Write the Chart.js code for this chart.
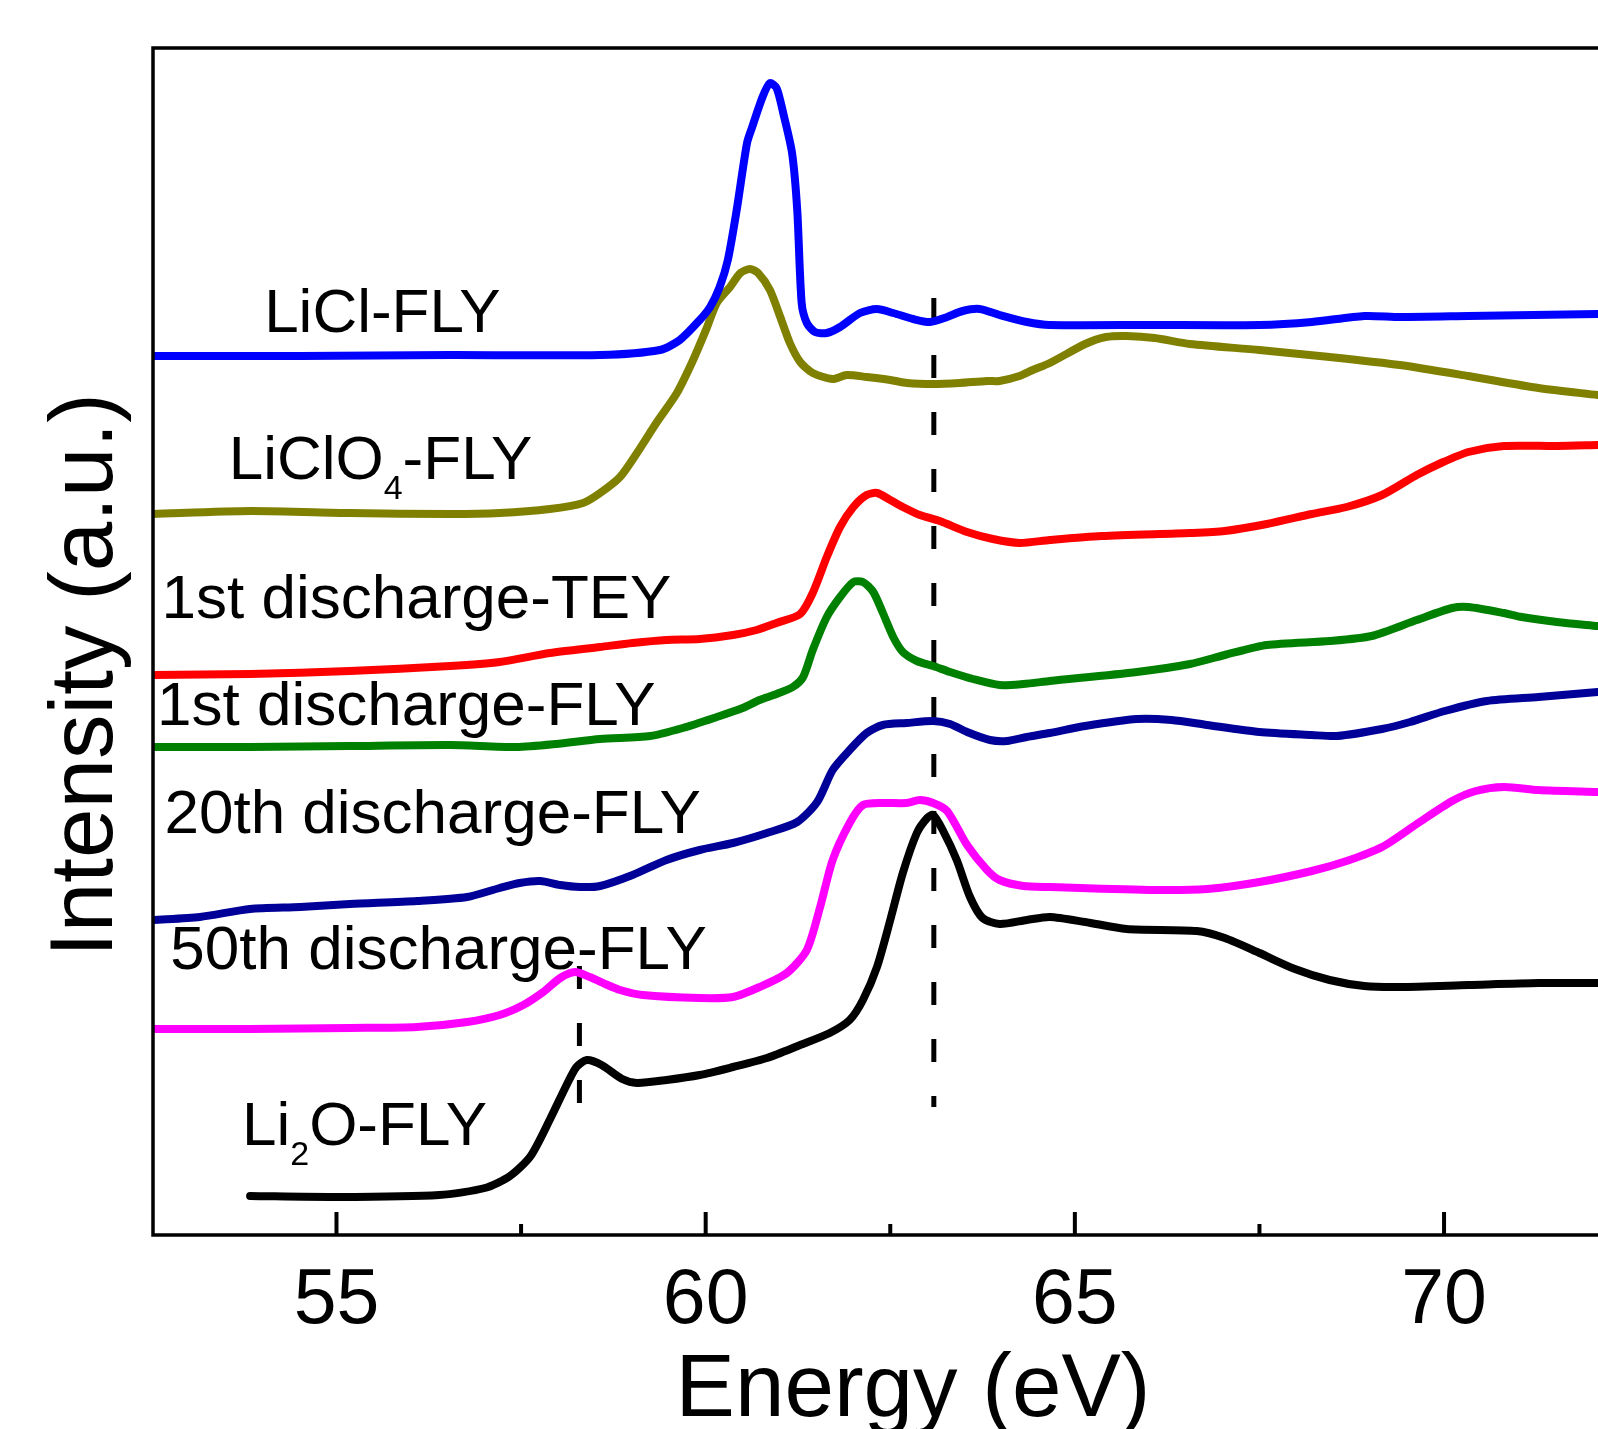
<!DOCTYPE html>
<html>
<head>
<meta charset="utf-8">
<title>Li K-edge XAS</title>
<script src="https://cdn.jsdelivr.net/npm/chart.js@4.4.1/dist/chart.umd.min.js"></script>
<style>
  html, body { margin: 0; padding: 0; background: #fff; }
  canvas { display: block; }
</style>
</head>
<body>
<canvas id="xasChart" width="1598" height="1429"></canvas>
<script>
// ===============================
// DATA (energy in eV, intensity in a.u., offset stacked as in the figure)
// ===============================
const liclFLY = [
  [52.52, 8.79], [54.51, 8.79], [56.54, 8.80], [58.57, 8.80], [59.38, 8.85], [59.65, 8.95],
  [59.92, 9.15], [60.06, 9.28], [60.19, 9.48], [60.30, 9.75], [60.42, 10.25], [60.56, 10.92],
  [60.63, 11.08], [60.77, 11.38], [60.87, 11.52], [60.96, 11.47], [61.05, 11.22], [61.17, 10.82],
  [61.24, 10.25], [61.30, 9.32], [61.37, 9.12], [61.48, 9.03], [61.64, 9.02], [61.82, 9.08],
  [62.09, 9.22], [62.32, 9.26], [62.54, 9.22], [62.81, 9.16], [63.04, 9.13], [63.27, 9.18],
  [63.48, 9.24], [63.71, 9.26], [63.98, 9.20], [64.35, 9.13], [64.66, 9.10], [66.01, 9.10],
  [67.50, 9.10], [68.21, 9.13], [68.92, 9.19], [69.40, 9.18], [70.33, 9.19], [72.08, 9.21]
];

const liclo4FLY = [
  [52.52, 7.21], [53.83, 7.24], [55.18, 7.22], [56.54, 7.21], [57.21, 7.22], [57.89, 7.26],
  [58.34, 7.32], [58.57, 7.42], [58.84, 7.58], [59.07, 7.82], [59.34, 8.13], [59.61, 8.42],
  [59.83, 8.75], [60.02, 9.08], [60.15, 9.32], [60.33, 9.48], [60.47, 9.62], [60.60, 9.66],
  [60.71, 9.62], [60.87, 9.45], [61.01, 9.18], [61.14, 8.92], [61.28, 8.73], [61.45, 8.62],
  [61.72, 8.56], [61.91, 8.60], [62.18, 8.58], [62.50, 8.55], [62.73, 8.52], [63.08, 8.51],
  [63.44, 8.52], [63.81, 8.54], [63.98, 8.54], [64.25, 8.59], [64.43, 8.65], [64.66, 8.72],
  [65.14, 8.91], [65.42, 8.98], [65.70, 8.99], [66.08, 8.97], [66.56, 8.91], [67.50, 8.85],
  [68.45, 8.78], [69.40, 8.70], [70.33, 8.59], [71.28, 8.47], [72.08, 8.40]
];

const firstTEY = [
  [52.52, 5.60], [53.83, 5.61], [55.18, 5.64], [56.54, 5.69], [57.21, 5.73], [57.89, 5.82],
  [58.57, 5.88], [59.01, 5.92], [59.47, 5.95], [59.92, 5.96], [60.37, 6.00], [60.69, 6.05],
  [60.96, 6.12], [61.28, 6.21], [61.45, 6.42], [61.64, 6.78], [61.82, 7.08], [62.00, 7.28],
  [62.18, 7.40], [62.32, 7.42], [62.50, 7.35], [62.67, 7.28], [62.90, 7.20], [63.17, 7.14],
  [63.54, 7.03], [63.89, 6.96], [64.25, 6.92], [64.66, 6.95], [65.36, 6.99], [66.56, 7.02],
  [67.03, 7.04], [67.60, 7.11], [68.21, 7.21], [68.68, 7.28], [69.16, 7.40], [69.63, 7.60],
  [69.96, 7.72], [70.33, 7.83], [70.81, 7.89], [71.53, 7.89], [72.08, 7.90]
];

const firstFLY = [
  [52.52, 4.88], [53.83, 4.88], [55.18, 4.89], [56.54, 4.90], [57.44, 4.88], [57.97, 4.91],
  [58.57, 4.96], [59.25, 4.99], [59.69, 5.07], [60.15, 5.18], [60.50, 5.27], [60.73, 5.35],
  [60.96, 5.41], [61.18, 5.48], [61.32, 5.58], [61.45, 5.85], [61.64, 6.18], [61.82, 6.38],
  [62.00, 6.53], [62.13, 6.53], [62.27, 6.43], [62.40, 6.22], [62.54, 5.98], [62.67, 5.83],
  [62.86, 5.74], [63.08, 5.69], [63.31, 5.63], [63.62, 5.56], [63.98, 5.50], [64.30, 5.51],
  [64.66, 5.54], [65.84, 5.63], [66.56, 5.71], [67.03, 5.80], [67.60, 5.90], [68.45, 5.94],
  [69.02, 5.99], [69.63, 6.15], [70.11, 6.27], [70.33, 6.28], [70.81, 6.22], [71.05, 6.18],
  [71.53, 6.13], [72.08, 6.09]
];

const twentiethFLY = [
  [52.52, 3.15], [53.15, 3.18], [53.83, 3.26], [54.51, 3.28], [55.18, 3.31], [56.09, 3.34],
  [56.77, 3.38], [57.21, 3.47], [57.48, 3.52], [57.76, 3.54], [58.03, 3.50], [58.30, 3.48],
  [58.57, 3.49], [59.01, 3.60], [59.47, 3.75], [59.92, 3.85], [60.37, 3.92], [60.83, 4.02],
  [61.24, 4.13], [61.51, 4.33], [61.72, 4.65], [61.95, 4.85], [62.18, 5.02], [62.40, 5.10],
  [62.72, 5.12], [63.08, 5.14], [63.31, 5.11], [63.54, 5.03], [63.85, 4.95], [64.08, 4.94],
  [64.35, 4.98], [64.66, 5.02], [65.14, 5.09], [65.84, 5.16], [66.31, 5.15], [66.79, 5.10],
  [67.50, 5.03], [68.21, 5.00], [68.55, 4.99], [69.16, 5.06], [69.54, 5.13], [70.01, 5.24],
  [70.58, 5.34], [71.28, 5.38], [72.08, 5.43]
];

const fiftiethFLY = [
  [52.52, 2.06], [53.83, 2.06], [55.18, 2.07], [56.09, 2.08], [56.77, 2.13], [57.21, 2.20],
  [57.53, 2.30], [57.80, 2.43], [58.03, 2.57], [58.23, 2.63], [58.43, 2.58], [58.64, 2.51],
  [58.84, 2.45], [59.15, 2.40], [59.92, 2.37], [60.37, 2.38], [60.73, 2.48], [61.10, 2.62],
  [61.37, 2.85], [61.55, 3.28], [61.72, 3.75], [61.95, 4.12], [62.13, 4.30], [62.40, 4.32],
  [62.72, 4.32], [62.90, 4.35], [63.08, 4.32], [63.27, 4.24], [63.54, 3.90], [63.81, 3.65],
  [63.98, 3.55], [64.30, 3.49], [64.66, 3.48], [66.08, 3.45], [66.79, 3.46], [67.50, 3.53],
  [68.21, 3.64], [68.68, 3.74], [69.16, 3.88], [69.63, 4.11], [70.11, 4.34], [70.43, 4.44],
  [70.81, 4.48], [71.28, 4.45], [72.08, 4.43]
];

const li2oFLY = [
  [53.83, 0.39], [55.01, 0.38], [56.39, 0.40], [57.01, 0.47], [57.35, 0.59], [57.63, 0.79],
  [57.90, 1.17], [58.11, 1.49], [58.25, 1.68], [58.39, 1.75], [58.59, 1.70], [58.87, 1.56],
  [59.07, 1.52], [59.47, 1.55], [59.92, 1.60], [60.37, 1.68], [60.83, 1.77], [61.28, 1.90],
  [61.68, 2.02], [61.95, 2.15], [62.13, 2.35], [62.32, 2.68], [62.50, 3.15], [62.67, 3.62],
  [62.86, 4.02], [63.00, 4.17], [63.08, 4.20], [63.21, 4.05], [63.40, 3.75], [63.58, 3.38],
  [63.75, 3.17], [63.98, 3.11], [64.35, 3.15], [64.66, 3.18], [65.14, 3.13], [65.70, 3.06],
  [66.65, 3.04], [67.03, 2.97], [67.50, 2.82], [67.98, 2.66], [68.45, 2.55], [68.92, 2.49],
  [69.40, 2.48], [70.33, 2.50], [71.28, 2.52], [72.08, 2.52]
];

// guide lines: [energy, top, bottom]
const guideLines = [[63.09, 9.37, 1.28], [58.29, 2.69, 0.99]];

const majorTicks = [55, 60, 65, 70];
const minorTicks = [57.5, 62.5, 67.5];

// curve labels: anchor energy, baseline intensity, text parts
const curveLabels = [
  { x: 54.02, y: 9.03, parts: [["LiCl-FLY"]] },
  { x: 53.54, y: 7.56, parts: [["LiClO"], ["4", true], ["-FLY"]] },
  { x: 52.63, y: 6.17, parts: [["1st discharge-TEY"]] },
  { x: 52.57, y: 5.10, parts: [["1st discharge-FLY"]] },
  { x: 52.67, y: 4.02, parts: [["20th discharge-FLY"]] },
  { x: 52.75, y: 2.66, parts: [["50th discharge-FLY"]] },
  { x: 53.72, y: 0.90, parts: [["Li"], ["2", true], ["O-FLY"]] }
];

const FONT = "'Liberation Sans', Arial, sans-serif";

document.addEventListener("DOMContentLoaded", () => {
  const toPoints = arr => arr.map(([x, y]) => ({ x, y }));

  const curve = (label, data, color) => ({
    label,
    data: toPoints(data),
    borderColor: color,
    borderWidth: 8,
    pointRadius: 0,
    tension: 0.25,
    borderCapStyle: "round",
    borderJoinStyle: "round",
    fill: false
  });

  const guides = guideLines.map(([e, top, bottom]) => ({
    label: "guide",
    data: [{ x: e, y: top }, { x: e, y: bottom }],
    borderColor: "#000",
    borderWidth: 5,
    borderDash: [23, 34],
    pointRadius: 0,
    fill: false
  }));

  // ---- axes frame, inward ticks, tick labels, titles, curve labels
  const framePlugin = {
    id: "frame",
    afterDraw(chart) {
      const { ctx, chartArea: a, scales: { x, y } } = chart;
      ctx.save();
      ctx.strokeStyle = "#000";
      ctx.lineWidth = 3.5;
      ctx.beginPath();
      ctx.moveTo(a.right, a.top);
      ctx.lineTo(a.left, a.top);
      ctx.lineTo(a.left, a.bottom);
      ctx.lineTo(a.right, a.bottom);
      ctx.stroke();

      ctx.lineWidth = 4;
      ctx.beginPath();
      majorTicks.forEach(v => {
        const px = x.getPixelForValue(v);
        ctx.moveTo(px, a.bottom);
        ctx.lineTo(px, a.bottom - 23);
      });
      minorTicks.forEach(v => {
        const px = x.getPixelForValue(v);
        ctx.moveTo(px, a.bottom);
        ctx.lineTo(px, a.bottom - 11);
      });
      ctx.stroke();

      ctx.fillStyle = "#000";
      ctx.textBaseline = "alphabetic";
      ctx.textAlign = "center";
      ctx.font = `77px ${FONT}`;
      majorTicks.forEach(v => ctx.fillText(String(v), x.getPixelForValue(v), a.bottom + 88));

      ctx.font = `89px ${FONT}`;
      ctx.fillText("Energy (eV)", 913, a.bottom + 181);

      ctx.save();
      ctx.translate(112, 675);
      ctx.rotate(-Math.PI / 2);
      ctx.fillText("Intensity (a.u.)", 0, 0);
      ctx.restore();

      ctx.textAlign = "left";
      curveLabels.forEach(lbl => {
        let px = x.getPixelForValue(lbl.x);
        const py = y.getPixelForValue(lbl.y);
        lbl.parts.forEach(([t, sub]) => {
          ctx.font = sub ? `34px ${FONT}` : `62px ${FONT}`;
          ctx.fillText(t, px, sub ? py + 20 : py);
          px += ctx.measureText(t).width;
        });
      });
      ctx.restore();
    }
  };

  new Chart(document.getElementById("xasChart"), {
    type: "line",
    data: {
      datasets: [
        curve("LiCl-FLY", liclFLY, "#0000ff"),
        curve("LiClO4-FLY", liclo4FLY, "#808000"),
        curve("1st discharge-TEY", firstTEY, "#ff0000"),
        curve("1st discharge-FLY", firstFLY, "#008000"),
        curve("20th discharge-FLY", twentiethFLY, "#000099"),
        curve("50th discharge-FLY", fiftiethFLY, "#ff00ff"),
        curve("Li2O-FLY", li2oFLY, "#000000"),
        ...guides
      ]
    },
    options: {
      responsive: false,
      animation: false,
      devicePixelRatio: 1,
      layout: { padding: { left: 153, top: 48, right: 0, bottom: 194 } },
      plugins: { legend: { display: false }, tooltip: { enabled: false } },
      scales: {
        x: { type: "linear", min: 52.515, max: 72.085, display: false },
        y: { type: "linear", min: 0, max: 11.87, display: false }
      }
    },
    plugins: [framePlugin]
  });
});
</script>
</body>
</html>
